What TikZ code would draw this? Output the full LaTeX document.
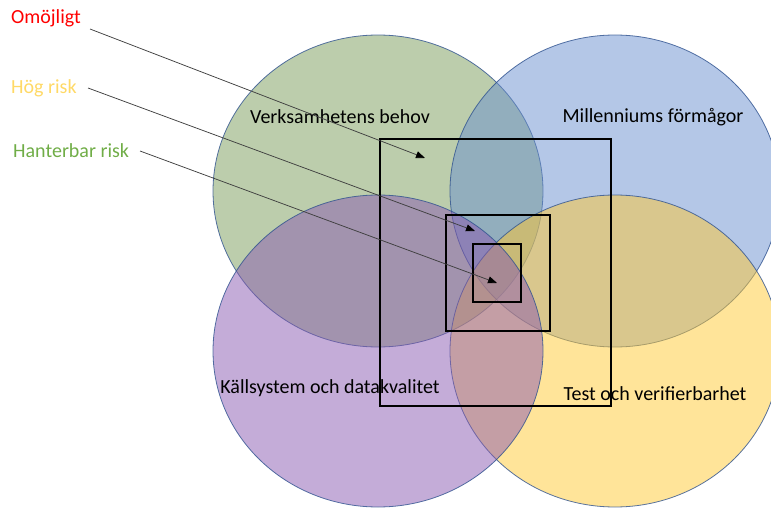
\documentclass[tikz,border=0pt]{standalone}
\usepackage{fontspec}
\setmainfont{Carlito}
\usetikzlibrary{arrows.meta}
\definecolor{cgreen}{RGB}{121,155,89}
\definecolor{cblue}{RGB}{105,143,207}
\definecolor{cpurple}{RGB}{137,89,177}
\definecolor{cyellow}{RGB}{255,201,51}
\definecolor{cedge}{RGB}{47,82,143}
\definecolor{lred}{RGB}{255,0,0}
\definecolor{lyellow}{RGB}{255,217,102}
\definecolor{lgreen}{RGB}{112,173,71}
\definecolor{cline}{RGB}{64,64,64}
\begin{document}
\begin{tikzpicture}[x=1pt,y=-1pt,
  setshape/.style={draw=cedge,line width=0.8pt,fill opacity=0.5,draw opacity=0.8},
  zone/.style={draw=black,line width=2.5pt},
  lbl/.style={font=\fontsize{20}{22}\selectfont,inner sep=0pt,anchor=west},
  setlbl/.style={font=\fontsize{20}{22}\selectfont,inner sep=0pt,text=black},
  pointer/.style={draw=cline,line width=0.75pt,-{Triangle[length=9pt,width=7pt,color=black,fill=black]}}]
\useasboundingbox (0,0) rectangle (771,508);
\clip (0,0) rectangle (771,508);
% sets
\path[setshape,fill=cgreen] (378,191) ellipse [x radius=165pt,y radius=156pt];
\path[setshape,fill=cblue] (615,191) ellipse [x radius=165pt,y radius=156pt];
\path[setshape,fill=cyellow] (615,351) ellipse [x radius=165pt,y radius=156pt];
\path[setshape,fill=cpurple] (378,351) ellipse [x radius=165pt,y radius=156pt];
% set labels
\node[setlbl] (verk) at (340,117) {Verksamhetens behov};
\node[setlbl] (mill) at (653,117) {Millenniums förmågor};
\node[setlbl] (kall) at (330,388) {Källsystem och datakvalitet};
\node[setlbl] (test) at (655,394) {Test och verifierbarhet};
% risk zones
\draw[zone] (380,139) rectangle (611,406);
\draw[zone] (446,215) rectangle (550,331);
\draw[zone] (473,244) rectangle (521,302);
% risk labels
\node[lbl,text=lred] (omoj) at (11,18) {Omöjligt};
\node[lbl,text=lyellow] (hog) at (11,88) {Hög risk};
\node[lbl,text=lgreen] (hant) at (13,151) {Hanterbar risk};
\coordinate (omojs) at (90,29);
\coordinate (hogs) at (88,88);
\coordinate (hants) at (140,151);
\coordinate (omojt) at (425,158);
\coordinate (hogt) at (475,231);
\coordinate (hantt) at (497,283);
\draw[pointer] (omojs) -- (omojt);
\draw[pointer] (hogs) -- (hogt);
\draw[pointer] (hants) -- (hantt);
\end{tikzpicture}
\end{document}
